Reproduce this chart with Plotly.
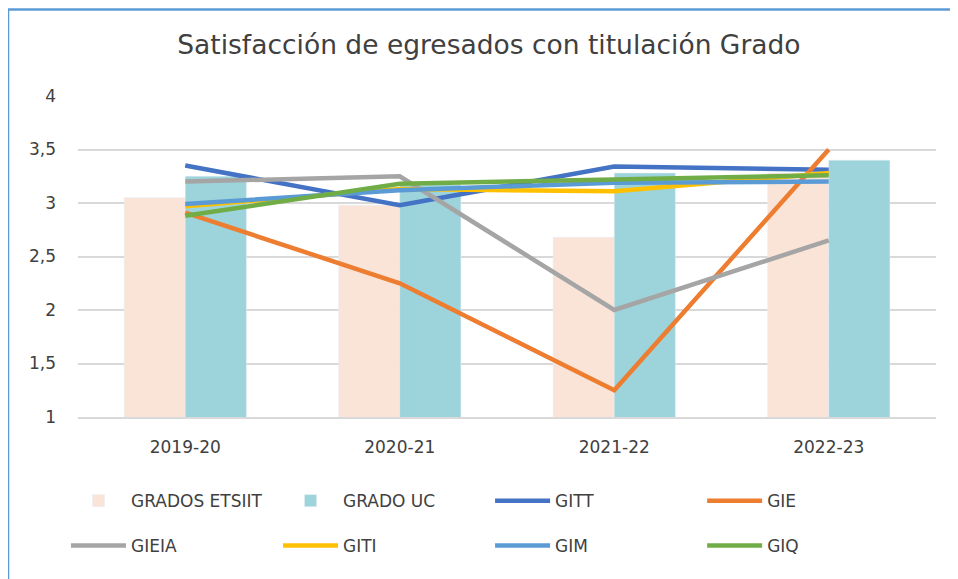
import plotly.graph_objects as go

cursos = ['2019-20', '2020-21', '2021-22', '2022-23']

grados_etsiit = [3.05, 2.98, 2.68, 3.28]
grado_uc = [3.25, 3.17, 3.28, 3.40]

gitt = [3.35, 2.98, 3.34, 3.31]
gie = [2.91, 2.25, 1.25, 3.50]
gieia = [3.20, 3.25, 2.00, 2.65]
giti = [2.97, 3.13, 3.11, 3.28]
gim = [2.99, 3.12, 3.19, 3.20]
giq = [2.88, 3.18, 3.22, 3.26]

FUENTE = 'DejaVu Sans'
TEXTO = '#404040'

fig = go.Figure()

# Barras (fila 1 de la leyenda)
fig.add_trace(go.Bar(x=cursos, y=grados_etsiit, name='GRADOS ETSIIT',
                     marker_color='#FAE4D7', legend='legend'))
fig.add_trace(go.Bar(x=cursos, y=grado_uc, name='GRADO UC',
                     marker_color='#9DD3DA', legend='legend'))

# Lineas
lineas = [
    ('GITT', gitt, '#4472C4', 'legend'),
    ('GIE', gie, '#ED7D31', 'legend'),
    ('GIEIA', gieia, '#A5A5A5', 'legend2'),
    ('GITI', giti, '#FFC000', 'legend2'),
    ('GIM', gim, '#5B9BD5', 'legend2'),
    ('GIQ', giq, '#70AD47', 'legend2'),
]
for nombre, valores, color, leyenda in lineas:
    fig.add_trace(go.Scatter(x=cursos, y=valores, name=nombre, mode='lines',
                             line=dict(color=color, width=4.5),
                             legend=leyenda))

leyenda_comun = dict(orientation='h', entrywidth=0.2285, entrywidthmode='fraction',
                     itemwidth=55, xanchor='left', yanchor='middle',
                     font=dict(family=FUENTE, size=17, color=TEXTO),
                     bgcolor='rgba(0,0,0,0)')

# la pagina deja ~8 px de margen, se compensa en los margenes
fig.update_layout(
    width=958, height=579,
    margin=dict(l=70, r=30, t=88, b=170, autoexpand=False),
    paper_bgcolor='white', plot_bgcolor='white',
    separators=',.',
    barmode='group', bargap=0.43, bargroupgap=0,
    font=dict(family=FUENTE, color=TEXTO),
    title=dict(text='Satisfacción de egresados con titulación Grado',
               x=0.502, xanchor='center', y=0.936, yanchor='middle',
               xref='container', yref='container',
               font=dict(family=FUENTE, size=26.5, color=TEXTO)),
    legend=dict(x=-0.014, y=-0.262, **leyenda_comun),
    legend2=dict(x=-0.014, y=-0.402, **leyenda_comun),
    xaxis=dict(showgrid=False, ticks='', ticklabelstandoff=14, automargin=False,
               showline=True, linecolor='#D9D9D9', linewidth=2,
               tickfont=dict(family=FUENTE, size=17, color=TEXTO)),
    yaxis=dict(range=[1, 4], dtick=0.5, showgrid=True, gridcolor='#D9D9D9',
               gridwidth=2, zeroline=False, ticks='', ticklabelstandoff=21,
               automargin=False,
               tickfont=dict(family=FUENTE, size=17, color=TEXTO)),
    shapes=[
        dict(type='line', xref='paper', yref='paper',
             x0=-0.0816, x1=1.05, y0=1.2695, y1=1.2695,
             line=dict(color='#5B9BD5', width=2.5)),
        dict(type='line', xref='paper', yref='paper',
             x0=-0.0816, x1=-0.0816, y0=1.2695, y1=-0.55,
             line=dict(color='#5B9BD5', width=2.5)),
    ],
)

fig.write_html('out.html')
